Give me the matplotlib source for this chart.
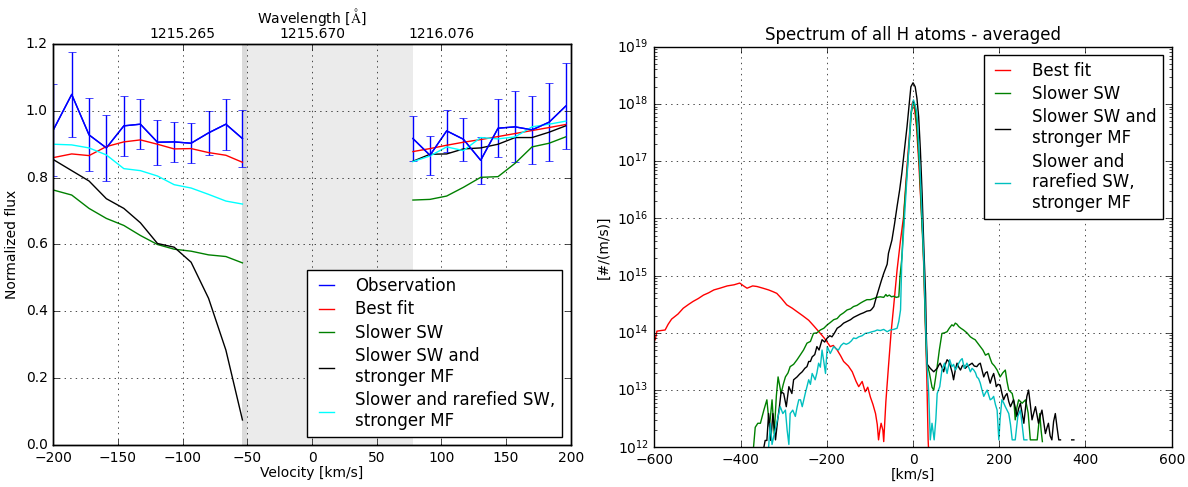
import numpy as np
import matplotlib
matplotlib.use('Agg')
import matplotlib.pyplot as plt

plt.style.use('classic')
plt.rcParams['font.size'] = 10
plt.rcParams['figure.facecolor'] = 'white'
plt.rcParams['savefig.facecolor'] = 'white'

# ---------------- left panel: line profile ----------------
v_left = [-200, -185.8, -172.4, -159, -145.5, -132.7, -119.5, -106.6, -93.5, -80, -66.6, -53.8]
v_right = [78, 91.2, 104.1, 117, 130.4, 143.8, 157, 170.1, 183.3, 196.1]

obs_left = [0.943, 1.049, 0.928, 0.889, 0.955, 0.960, 0.906, 0.907, 0.903, 0.934, 0.960, 0.917]
obs_right = [0.917, 0.867, 0.940, 0.915, 0.852, 0.948, 0.952, 0.943, 0.966, 1.014]
err_left = [0.137, 0.128, 0.109, 0.099, 0.089, 0.075, 0.067, 0.061, 0.060, 0.066, 0.076, 0.085]
err_right = [0.067, 0.058, 0.063, 0.065, 0.071, 0.086, 0.106, 0.101, 0.117, 0.128]

best_left = [0.860, 0.871, 0.866, 0.893, 0.907, 0.913, 0.900, 0.886, 0.887, 0.875, 0.867, 0.846]
best_right = [0.878, 0.887, 0.897, 0.906, 0.914, 0.923, 0.932, 0.941, 0.950, 0.959]
slow_left = [0.763, 0.748, 0.708, 0.678, 0.657, 0.627, 0.600, 0.586, 0.580, 0.569, 0.564, 0.545]
slow_right = [0.733, 0.735, 0.745, 0.771, 0.801, 0.803, 0.843, 0.892, 0.903, 0.922]
slowmf_left = [0.854, 0.821, 0.790, 0.737, 0.708, 0.665, 0.603, 0.592, 0.547, 0.439, 0.284, 0.075]
slowmf_right = [0.849, 0.870, 0.871, 0.886, 0.889, 0.900, 0.920, 0.920, 0.936, 0.955]
rare_left = [0.900, 0.898, 0.889, 0.868, 0.827, 0.821, 0.805, 0.779, 0.769, 0.750, 0.730, 0.721]
rare_right = [0.848, 0.865, 0.892, 0.881, 0.920, 0.916, 0.922, 0.952, 0.960, 0.969]

masked_band = [-54, 78]
wl_ticks = [-100, 0, 100]
wl_labels = ['1215.265', '1215.670', '1216.076']

# ---------------- right panel: velocity spectra (log10 of #/(m/s)) ----------------
best_v = [-598, -594, -585, -575, -568, -560, -545, -533, -520, -510, -498, -486, -474, -462, -448,
          -431, -415, -402, -393, -385, -372, -362, -348, -335, -325, -316, -305, -293, -280, -269,
          -256, -242, -230, -215, -205, -192, -185, -176, -168, -161, -150, -141, -132, -126, -118,
          -111, -105, -99, -93, -87, -83, -80, -77, -74, -70, -68, -63, -57, -51, -45, -37, -29,
          -22, -14, -6, -2, 0, 3, 8, 13, 18, 23, 28, 32, 35, 37]
best_f = [13.88, 14.03, 14.04, 14.05, 14.15, 14.24, 14.33, 14.43, 14.50, 14.55, 14.60, 14.66, 14.70,
          14.75, 14.78, 14.82, 14.84, 14.87, 14.82, 14.78, 14.82, 14.81, 14.78, 14.75, 14.72, 14.69,
          14.60, 14.49, 14.43, 14.37, 14.30, 14.22, 14.12, 13.99, 13.90, 13.76, 13.78, 13.70, 13.60,
          13.50, 13.42, 13.32, 13.15, 13.06, 13.15, 12.97, 13.05, 12.88, 12.75, 12.59, 12.40, 12.13,
          12.30, 12.42, 12.30, 12.10, 12.80, 13.41, 14.00, 14.46, 15.10, 15.62, 16.03, 16.90, 17.70,
          18.01, 18.04, 17.95, 17.60, 17.02, 16.30, 15.63, 14.30, 13.20, 12.13, 11.80]

slow_v = [-370, -366, -360, -354, -346, -339, -333, -327, -322, -317, -313, -306, -301, -296, -290,
          -285, -277, -269, -261, -254, -246, -238, -231, -223, -215, -207, -199, -192, -184, -176,
          -169, -161, -153, -145, -138, -130, -122, -115, -107, -99, -91, -84, -76, -68, -63, -60,
          -55, -50, -45, -39, -33, -30, -26, -20, -14, -8, -4, 1, 5, 10, 15, 20, 25, 28, 32, 38, 44,
          48, 52, 56, 61, 67, 73, 79, 84, 90, 94, 98, 102, 106, 111, 117, 125, 133, 139, 144, 150,
          156, 162, 168, 175, 179, 183, 189, 195, 202, 208, 214, 218, 222, 230, 234, 237, 241, 245,
          253, 261, 267, 272, 280, 288, 294, 297, 300]
slow_f = [12.00, 12.35, 12.42, 12.42, 12.65, 12.83, 12.36, 12.83, 12.24, 12.90, 13.23, 12.94, 13.10,
          13.23, 13.30, 13.41, 13.45, 13.53, 13.62, 13.70, 13.82, 13.85, 13.99, 14.00, 14.05, 14.08,
          14.14, 14.18, 14.23, 14.25, 14.31, 14.35, 14.40, 14.42, 14.46, 14.48, 14.52, 14.55, 14.58,
          14.58, 14.60, 14.62, 14.63, 14.62, 14.67, 14.64, 14.66, 14.63, 14.64, 14.62, 14.63, 15.00,
          15.30, 16.20, 16.80, 17.40, 17.85, 18.04, 17.95, 17.50, 16.90, 16.00, 15.20, 14.30, 13.47,
          13.30, 13.05, 13.00, 13.20, 13.41, 13.70, 13.99, 14.00, 14.02, 14.08, 14.14, 14.12, 14.17,
          14.15, 14.11, 14.08, 14.05, 14.00, 13.93, 13.90, 13.88, 13.82, 13.76, 13.70, 13.61, 13.64,
          13.55, 13.47, 13.42, 13.35, 13.23, 13.30, 13.35, 13.15, 13.00, 12.94, 12.80, 12.48, 12.70,
          12.83, 12.77, 12.83, 12.60, 12.13, 12.13, 12.13, 12.59, 12.30, 12.10]

slowmf_v = [-346, -343, -339, -335, -330, -325, -319, -314, -310, -306, -300, -294, -288, -281, -277,
            -269, -263, -257, -251, -246, -242, -238, -234, -228, -223, -218, -211, -205, -199, -193,
            -188, -182, -176, -168, -161, -153, -145, -138, -130, -122, -115, -107, -99, -95, -91,
            -86, -80, -74, -68, -60, -57, -49, -43, -37, -31, -26, -20, -14, -9, -5, 0, 5, 9, 13, 17,
            21, 25, 29, 31, 33, 36, 40, 44, 48, 52, 56, 60, 63, 67, 71, 75, 79, 83, 87, 91, 94, 98,
            102, 106, 110, 114, 117, 121, 125, 131, 137, 142, 148, 152, 156, 160, 164, 168, 172, 176,
            179, 183, 187, 191, 193, 197, 202, 206, 210, 214, 218, 222, 226, 230, 233, 237, 241, 245,
            249, 253, 257, 261, 264, 268, 272, 276, 280, 284, 288, 291, 295, 299, 303, 307, 311, 314,
            318, 322, 326, 330, 334, 338, 342, 355, 368, 373]
slowmf_f = [12.00, 12.12, 12.12, 12.59, 12.12, 12.59, 12.13, 12.48, 12.70, 12.97, 12.94, 12.71, 13.06,
            12.94, 13.18, 13.23, 13.28, 13.32, 13.38, 13.41, 13.50, 13.50, 13.58, 13.62, 13.76, 13.70,
            13.88, 13.84, 13.91, 13.95, 13.93, 14.00, 14.08, 14.12, 14.17, 14.20, 14.23, 14.27, 14.30,
            14.33, 14.35, 14.38, 14.39, 14.42, 14.46, 14.60, 14.75, 14.90, 15.04, 15.20, 15.39, 15.62,
            15.90, 16.21, 16.50, 16.79, 17.20, 17.60, 17.98, 18.30, 18.37, 18.30, 18.10, 17.78, 17.20,
            16.44, 15.50, 14.69, 13.90, 13.45, 13.42, 13.38, 13.35, 13.32, 13.35, 13.38, 13.44, 13.47,
            13.40, 13.32, 13.45, 13.53, 13.50, 13.41, 13.30, 13.18, 13.35, 13.47, 13.40, 13.35, 13.42,
            13.44, 13.38, 13.41, 13.44, 13.47, 13.42, 13.41, 13.45, 13.47, 13.35, 13.23, 13.30, 13.32,
            13.20, 13.12, 13.22, 13.29, 13.15, 13.06, 13.10, 13.09, 12.95, 12.83, 12.90, 12.94, 12.80,
            12.71, 12.78, 12.83, 12.70, 12.54, 12.68, 12.77, 12.60, 12.42, 12.70, 12.89, 13.00, 12.75,
            12.48, 12.60, 12.71, 12.55, 12.42, 12.55, 12.65, 12.45, 12.24, 12.35, 12.42, 12.20, 12.13,
            12.45, 12.59, 12.35, 12.13, 12.13, np.nan, 12.13, 12.13]

rare_v = [-335, -331, -327, -320, -314, -308, -302, -296, -292, -288, -285, -279, -273, -269, -265,
          -261, -257, -250, -246, -242, -238, -234, -227, -223, -219, -215, -211, -207, -203, -199,
          -192, -188, -184, -178, -173, -167, -161, -155, -149, -143, -138, -132, -126, -118, -111,
          -103, -95, -89, -83, -76, -68, -60, -53, -45, -37, -33, -29, -26, -20, -14, -9, -5, 1, 5,
          9, 13, 17, 21, 25, 29, 32, 36, 40, 44, 49, 53, 56, 62, 67, 73, 79, 85, 90, 94, 98, 102, 106,
          110, 114, 119, 125, 129, 133, 137, 141, 145, 148, 152, 156, 160, 164, 168, 172, 176, 179,
          183, 187, 191, 195, 199, 202, 206, 210, 214, 218, 222, 226, 230, 237, 243, 249, 253, 257, 264]
rare_f = [12.00, 12.42, 12.05, 12.30, 12.50, 12.71, 12.59, 12.65, 12.30, 12.05, 12.59, 12.65, 12.54,
          12.70, 12.83, 12.83, 12.71, 12.94, 13.06, 13.18, 13.10, 13.29, 13.18, 13.30, 13.47, 13.40,
          13.70, 13.50, 13.29, 13.76, 13.64, 13.70, 13.76, 13.72, 13.70, 13.78, 13.82, 13.80, 13.82,
          13.86, 13.91, 13.90, 13.93, 13.95, 13.99, 14.00, 14.02, 14.03, 14.05, 14.04, 14.06, 14.02,
          14.05, 14.06, 14.08, 14.20, 14.40, 15.27, 16.00, 16.73, 17.30, 17.84, 18.07, 17.98, 17.84,
          17.30, 16.73, 16.00, 15.27, 14.20, 13.50, 13.00, 12.13, 12.42, 12.13, 12.50, 12.94, 13.06,
          13.35, 13.47, 13.29, 13.53, 13.41, 13.45, 13.35, 13.40, 13.47, 13.52, 13.55, 13.38, 13.47,
          13.40, 13.32, 13.38, 13.35, 13.30, 13.23, 13.20, 13.12, 13.00, 12.89, 12.95, 13.00, 12.90,
          12.83, 12.85, 12.89, 12.75, 12.65, 12.13, 12.50, 12.83, 12.78, 12.71, 12.65, 12.59, 12.40,
          12.13, 12.13, 12.54, 12.65, 12.40, 12.13, 12.13]


def join(a, b):
    return np.array(list(a) + [np.nan] + list(b), dtype=float)


fig = plt.figure(figsize=(11.88, 4.87), dpi=100)
ax1 = fig.add_axes([0.0449, 0.0862, 0.4355, 0.8235])
ax2 = fig.add_axes([0.5508, 0.0815, 0.4355, 0.8226])

# left
ax1.axvspan(masked_band[0], masked_band[1], color='0.92', lw=0)
ax1.axvspan(masked_band[0], -50, color='0.86', lw=0)

v = join(v_left, v_right)
ax1.errorbar(v, join(obs_left, obs_right), yerr=join(err_left, err_right),
             color='b', capsize=3, lw=1)
ax1.plot(v, join(obs_left, obs_right), color='b', label='Observation')
ax1.plot(v, join(best_left, best_right), color='r', label='Best fit')
ax1.plot(v, join(slow_left, slow_right), color='g', label='Slower SW')
ax1.plot(v, join(slowmf_left, slowmf_right), color='k', label='Slower SW and\nstronger MF')
ax1.plot(v, join(rare_left, rare_right), color='cyan',
         label='Slower and rarefied SW,\nstronger MF')
ax1.set_xlim(-200, 200)
ax1.set_ylim(0, 1.2)
ax1.set_xticks(np.arange(-200, 201, 50))
ax1.set_yticks(np.arange(0, 1.21, 0.2))
ax1.grid(True)
ax1.set_xlabel('Velocity [km/s]', labelpad=1)
ax1.set_ylabel('Normalized flux')
ax1.legend(loc='lower right', fontsize=12, handlelength=1.5, handletextpad=1.0,
           labelspacing=0.32)

top = ax1.twiny()
top.set_xlim(ax1.get_xlim())
top.set_xticks(wl_ticks)
top.set_xticklabels(wl_labels)
top.tick_params(axis='x', pad=2)
top.set_xlabel('Wavelength [$\\mathrm{\\AA}$]', labelpad=3)

# right
ax2.plot(best_v, 10 ** np.array(best_f), color='r', label='Best fit')
ax2.plot(slow_v, 10 ** np.array(slow_f), color='g', label='Slower SW')
ax2.plot(slowmf_v, 10 ** np.array(slowmf_f), color='k', label='Slower SW and\nstronger MF')
ax2.plot(rare_v, 10 ** np.array(rare_f), color='c', label='Slower and\nrarefied SW,\nstronger MF')
ax2.set_yscale('log')
ax2.set_xlim(-600, 600)
ax2.set_ylim(1e12, 1e19)
ax2.grid(True)
ax2.set_xlabel('[km/s]', labelpad=1)
ax2.set_ylabel('[#/(m/s)]')
ax2.set_title('Spectrum of all H atoms - averaged', fontsize=12)
ax2.legend(loc='upper right', fontsize=12, handlelength=1.5, handletextpad=1.0,
           labelspacing=0.32)

plt.savefig('out.png', dpi=100)
